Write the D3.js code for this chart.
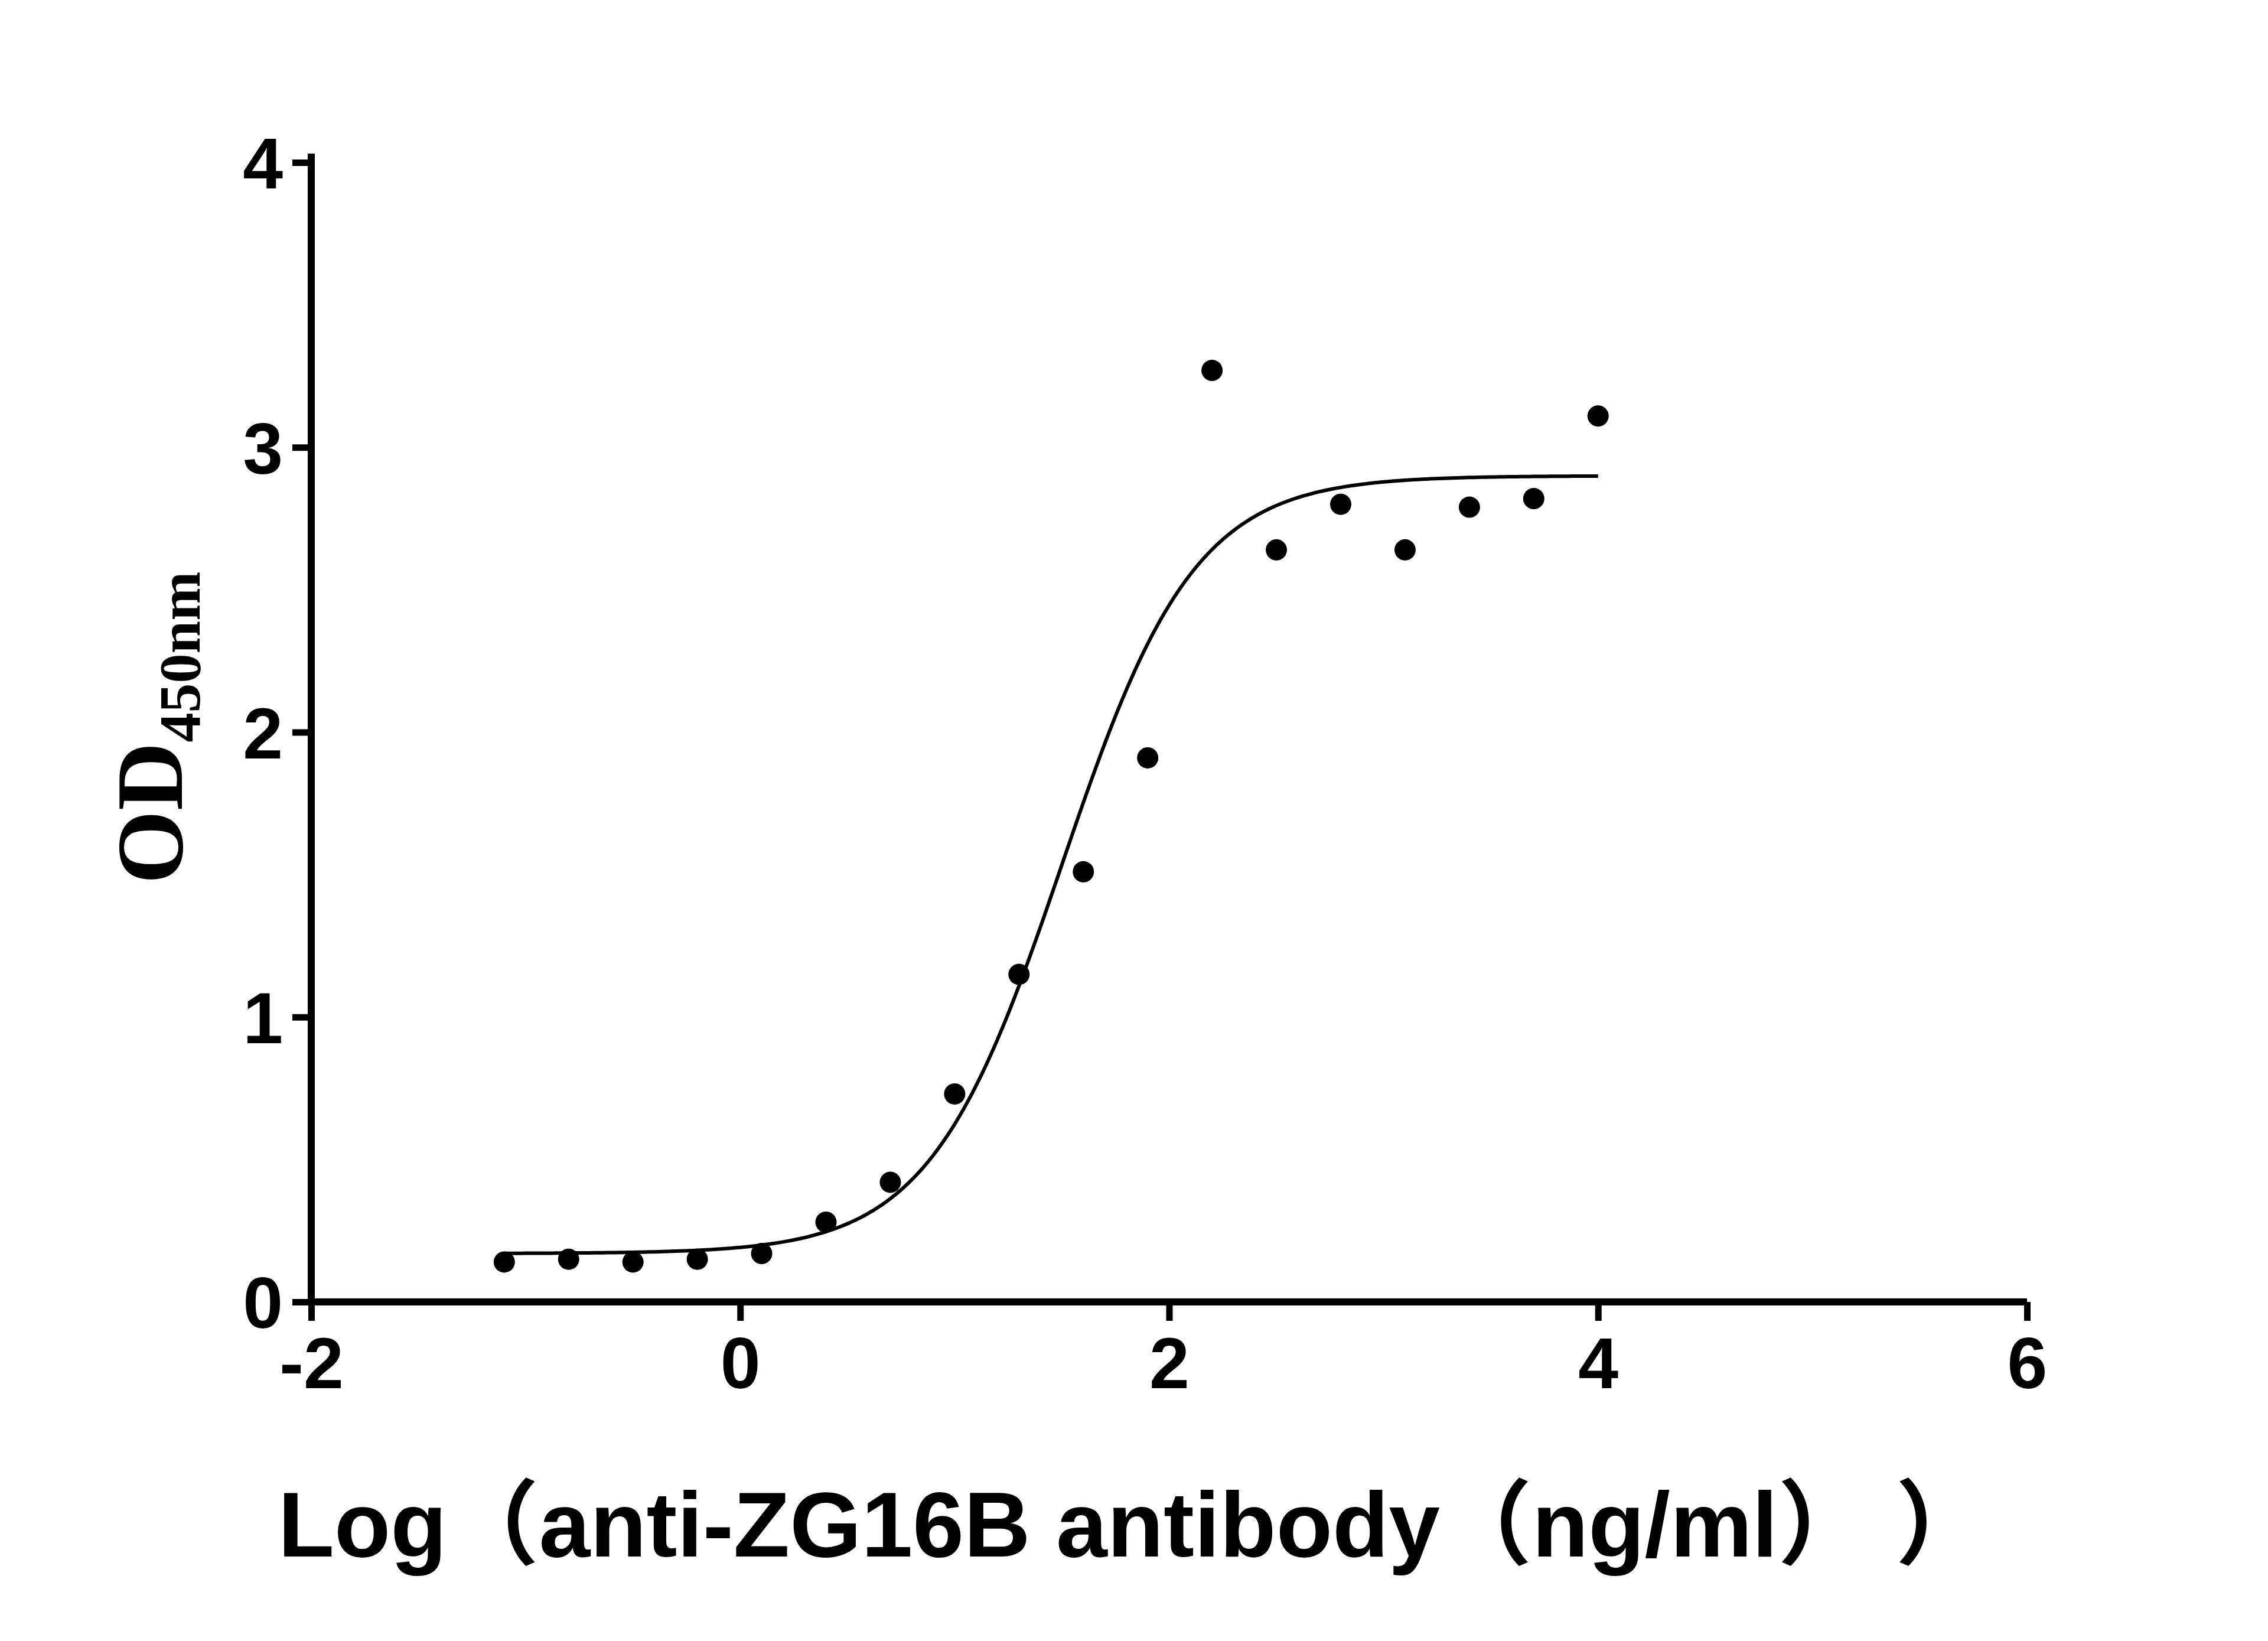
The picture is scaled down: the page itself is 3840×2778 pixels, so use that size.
<!DOCTYPE html>
<html><head><meta charset="utf-8">
<script src="https://cdn.jsdelivr.net/npm/d3@7"></script>
<style>body{margin:0;background:#fff}</style></head>
<body><svg id="c" width="3840" height="2778"></svg>
<script>
const logConc = [-1.1,-0.8,-0.5,-0.2,0.1,0.4,0.7,1.0,1.3,1.6,1.9,2.2,2.5,2.8,3.1,3.4,3.7,4.0];
const od = [0.14,0.15,0.14,0.15,0.17,0.28,0.42,0.73,1.15,1.51,1.91,3.27,2.64,2.80,2.64,2.79,2.82,3.11];
const fitBottom = [0.17], fitTop = [2.9], fitLogEC50 = [1.5], fitHill = [1.4];
const xTicks = [-2,0,2,4,6], yTicks = [0,1,2,3,4];

const svg = d3.select("#c");
const x = d3.scaleLinear().domain([-2,6]).range([527,3432]);
const y = d3.scaleLinear().domain([0,4]).range([2204,275]);

const xa = svg.append("g").attr("transform","translate(0,2204)")
  .call(d3.axisBottom(x).tickValues(xTicks).tickSize(32).tickPadding(22).tickFormat(d=>String(d)));
const ya = svg.append("g").attr("transform","translate(527,0)")
  .call(d3.axisLeft(y).tickValues(yTicks).tickSize(32).tickPadding(16).tickFormat(d=>String(d)));
[xa,ya].forEach(a=>{
  a.selectAll("path").attr("stroke","#000").attr("stroke-width",12).attr("d", null);
  a.selectAll("line").attr("stroke","#000").attr("stroke-width",11);
  a.selectAll("text").attr("font-family","Liberation Sans, Arial").attr("font-weight","bold")
    .attr("font-size",122).attr("fill","#000");
});
xa.select("path").attr("d",`M${x(-2)},0H${x(6)}`);
ya.select("path").attr("d",`M0,${y(0)}V${y(4)-15}`);
xa.selectAll("text").attr("dy","0.75em");
ya.selectAll("text").attr("dy","0.36em");

const f = v => fitBottom[0] + (fitTop[0]-fitBottom[0])/(1+Math.pow(10,(fitLogEC50[0]-v)*fitHill[0]));
const xs = d3.range(logConc[0], logConc[logConc.length-1]+0.001, 0.02);
svg.append("path").datum(xs).attr("fill","none").attr("stroke","#000").attr("stroke-width",6)
  .attr("d", d3.line().x(d=>x(d)).y(d=>y(f(d))));

svg.selectAll("circle.p").data(logConc).join("circle")
  .attr("cx",d=>x(d)).attr("cy",(d,i)=>y(od[i])).attr("r",18).attr("fill","#000");

svg.append("text").attr("x",1918).attr("y",2635).attr("text-anchor","middle")
  .attr("font-family","Liberation Sans, Arial, 'Noto Sans CJK SC'").attr("font-weight","bold")
  .attr("font-size",156).text("Log（anti-ZG16B antibody（ng/ml）  ）");

const yl = svg.append("text").attr("transform","translate(308,1232) rotate(-90)")
  .attr("text-anchor","middle").attr("font-family","Liberation Serif, Times New Roman")
  .attr("font-weight","bold").attr("font-size",160);
yl.append("tspan").text("OD");
yl.append("tspan").attr("font-size",100).attr("dy",30).text("450nm");
</script></body></html>
